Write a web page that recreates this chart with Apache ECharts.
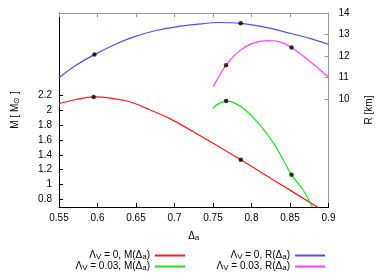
<!DOCTYPE html>
<html><head><meta charset="utf-8">
<script src="https://cdn.jsdelivr.net/npm/echarts@6/dist/echarts.min.js"></script>
<style>html,body{margin:0;padding:0;background:#fff}#c{width:392px;height:275px}</style>
</head><body><div id="c"></div>
<script>
// Λ_V = 0, M(Δa)
const deltaRed = [0.55, 0.571, 0.595, 0.617, 0.643, 0.668, 0.694, 0.724, 0.786, 0.83, 0.886];
const massRed  = [2.084, 2.137, 2.175, 2.16, 2.107, 2.004, 1.884, 1.711, 1.333, 1.053, 0.698];
// Λ_V = 0.03, M(Δa)
const deltaGreen = [0.7494, 0.758, 0.767, 0.779, 0.792, 0.809, 0.83, 0.852, 0.868, 0.879];
const massGreen  = [2.022, 2.089, 2.12, 2.089, 2.0, 1.823, 1.533, 1.133, 0.911, 0.70];
// Λ_V = 0, R(Δa)
const deltaBlue = [0.55, 0.571, 0.596, 0.622, 0.647, 0.677, 0.702, 0.728, 0.758, 0.786, 0.822, 0.851, 0.877, 0.9];
const radiusBlue = [11.0, 11.55, 12.07, 12.53, 12.89, 13.2, 13.36, 13.47, 13.56, 13.52, 13.31, 13.05, 12.81, 12.54];
// Λ_V = 0.03, R(Δa)
const deltaMagenta = [0.7502, 0.758, 0.767, 0.783, 0.800, 0.822, 0.838, 0.852, 0.872, 0.9];
const radiusMagenta = [10.58, 11.08, 11.58, 12.21, 12.58, 12.72, 12.65, 12.4, 11.87, 11.03];
// marked points
const dotsRed = [[0.595, 2.175], [0.786, 1.333]];
const dotsGreen = [[0.767, 2.12], [0.852, 1.133]];
const dotsBlue = [[0.596, 12.07], [0.786, 13.52]];
const dotsMagenta = [[0.767, 11.58], [0.852, 12.4]];
// ticks
const xTicks = [0.55, 0.6, 0.65, 0.7, 0.75, 0.8, 0.85, 0.9];
const mTicks = [0.8, 1, 1.2, 1.4, 1.6, 1.8, 2, 2.2];
const rTicks = [10, 11, 12, 13, 14];
const names = ['Λ_V = 0, M(Δa)', 'Λ_V = 0.03, M(Δa)', 'Λ_V = 0, R(Δa)', 'Λ_V = 0.03, R(Δa)'];
const legendRich = [
  'Λ{s|V} = 0, M(Δ{s|a})', 'Λ{s|V} = 0.03, M(Δ{s|a})',
  'Λ{s|V} = 0, R(Δ{s|a})', 'Λ{s|V} = 0.03, R(Δ{s|a})'
];
const zip = (a, b) => a.map((v, i) => [v, b[i]]);
const FONT = 'Liberation Sans';
const C = {red: '#ff1a1a', green: '#1ee01e', blue: '#4f4fff', magenta: '#ff40ff'};
const chart = echarts.init(document.getElementById('c'), null, {renderer: 'canvas'});
const lineS = (name, data, color, yi) => ({
  type: 'line', name, data, yAxisIndex: yi, showSymbol: false, symbol: 'none',
  smooth: 0.3, clip: true, color, lineStyle: {color, width: 1.2}, z: 2, animation: false
});
const dotS = (data, yi) => ({
  type: 'scatter', data, yAxisIndex: yi, symbolSize: 4.5, itemStyle: {color: '#000'},
  z: 5, animation: false, silent: true
});
const rich = {s: {fontSize: 8, verticalAlign: 'bottom', padding: [5, 0, 0, 0], fontFamily: FONT, color: '#000', lineHeight: 11}};
const legendText = {fontFamily: FONT, fontSize: 10, color: '#000', lineHeight: 11, rich};
const fmtLegend = n => legendRich[names.indexOf(n)];
const legendBase = {orient: 'vertical', align: 'right', top: 248, height: 40, padding: 0,
  itemWidth: 30, itemHeight: 2, itemGap: -2, icon: 'rect', textStyle: legendText,
  formatter: fmtLegend, selectedMode: false};
chart.setOption({
  animation: false,
  textStyle: {fontFamily: FONT},
  grid: {left: 53, right: 63.5, top: 13, bottom: 68},
  legend: [
    Object.assign({data: [names[0], names[1]], right: 207}, legendBase),
    Object.assign({data: [names[2], names[3]], right: 67}, legendBase)
  ],
  xAxis: [
    {type: 'value', min: 0.55, max: 0.9, position: 'bottom',
     name: 'Δ{s|a}', nameLocation: 'middle', nameGap: 24,
     nameTextStyle: {fontFamily: FONT, fontSize: 10, color: '#000', rich},
     axisLine: {onZero: false, lineStyle: {color: '#000', width: 1}},
     axisTick: {inside: true, length: 4, customValues: xTicks, lineStyle: {color: '#000'}},
     axisLabel: {customValues: xTicks, color: '#000', fontSize: 10, fontFamily: FONT, margin: 6},
     splitLine: {show: false}},
    {type: 'value', min: 0.55, max: 0.9, position: 'top',
     axisLine: {onZero: false, lineStyle: {color: '#999', width: 1}},
     axisTick: {inside: true, length: 4, customValues: xTicks, lineStyle: {color: '#999'}},
     axisLabel: {show: false}, splitLine: {show: false}}
  ],
  yAxis: [
    {type: 'value', min: 0.7, max: 3.3, position: 'left',
     name: 'M [ M{s|⊙} ]', nameLocation: 'middle', nameRotate: 90, nameGap: 38,
     nameTextStyle: {fontFamily: FONT, fontSize: 10, color: '#000', rich},
     axisLine: {show: true, onZero: false, lineStyle: {color: '#000', width: 1}},
     axisTick: {show: true, inside: true, length: 4, customValues: mTicks, lineStyle: {color: '#000'}},
     axisLabel: {customValues: mTicks, color: '#000', fontSize: 10, fontFamily: FONT, margin: 7},
     splitLine: {show: false}},
    {type: 'value', min: 5, max: 14, position: 'right',
     name: 'R [km]', nameLocation: 'middle', nameRotate: 90, nameGap: 36,
     nameTextStyle: {fontFamily: FONT, fontSize: 10, color: '#000'},
     axisLine: {show: true, onZero: false, lineStyle: {color: '#999', width: 1}},
     axisTick: {show: true, inside: true, length: 4, customValues: rTicks, lineStyle: {color: '#999'}},
     axisLabel: {customValues: rTicks, color: '#000', fontSize: 10, fontFamily: FONT, margin: 10},
     splitLine: {show: false}}
  ],
  series: [
    lineS(names[0], zip(deltaRed, massRed), C.red, 0),
    lineS(names[1], zip(deltaGreen, massGreen), C.green, 0),
    lineS(names[2], zip(deltaBlue, radiusBlue), C.blue, 1),
    lineS(names[3], zip(deltaMagenta, radiusMagenta), C.magenta, 1),
    dotS(dotsRed, 0), dotS(dotsGreen, 0), dotS(dotsBlue, 1), dotS(dotsMagenta, 1)
  ]
});
</script></body></html>
